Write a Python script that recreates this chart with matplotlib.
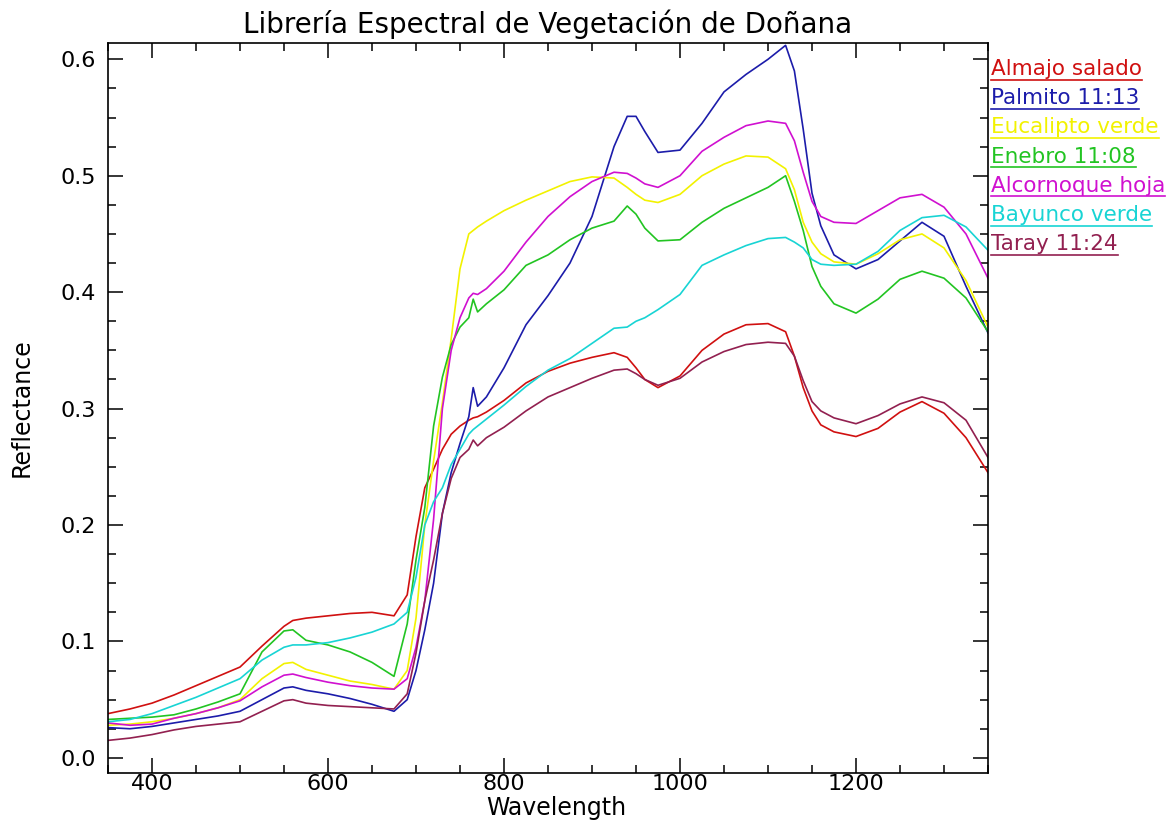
import numpy as np
import matplotlib.pyplot as plt
from matplotlib.lines import Line2D
from matplotlib.ticker import MultipleLocator

# wavelength grid (nm)
wavelength = [350, 375, 400, 425, 450, 475, 500, 525, 550, 560, 575,
              600, 625, 650, 675, 690, 700, 710, 720, 730, 740, 750,
              760, 765, 770, 780, 800, 825, 850, 875, 900, 925,
              940, 950, 960, 975, 1000, 1025, 1050, 1075, 1100,
              1120, 1130, 1140, 1150, 1160, 1175,
              1200, 1225, 1250, 1275, 1300, 1325, 1350]

almajo = [0.038, 0.042, 0.047, 0.054, 0.062, 0.070, 0.078, 0.096, 0.113, 0.118, 0.120,
          0.122, 0.124, 0.125, 0.122, 0.140, 0.190, 0.232, 0.248, 0.265, 0.278, 0.285,
          0.290, 0.292, 0.293, 0.297, 0.307, 0.322, 0.332, 0.339, 0.344, 0.348,
          0.344, 0.335, 0.325, 0.318, 0.328, 0.350, 0.364, 0.372, 0.373,
          0.366, 0.345, 0.318, 0.298, 0.286, 0.280,
          0.276, 0.283, 0.297, 0.306, 0.296, 0.275, 0.245]

palmito = [0.026, 0.025, 0.027, 0.030, 0.033, 0.036, 0.040, 0.050, 0.060, 0.061, 0.058,
           0.055, 0.051, 0.046, 0.040, 0.050, 0.075, 0.110, 0.150, 0.210, 0.245, 0.270,
           0.293, 0.318, 0.302, 0.310, 0.335, 0.372, 0.397, 0.425, 0.465, 0.525,
           0.551, 0.551, 0.538, 0.520, 0.522, 0.545, 0.572, 0.587, 0.600,
           0.612, 0.590, 0.540, 0.485, 0.457, 0.432,
           0.420, 0.428, 0.444, 0.460, 0.448, 0.405, 0.365]

eucalipto = [0.028, 0.029, 0.031, 0.034, 0.038, 0.043, 0.050, 0.068, 0.081, 0.082, 0.076,
             0.071, 0.066, 0.063, 0.059, 0.075, 0.120, 0.200, 0.255, 0.305, 0.360, 0.420,
             0.450, 0.453, 0.456, 0.461, 0.470, 0.479, 0.487, 0.495, 0.499, 0.498,
             0.490, 0.484, 0.479, 0.477, 0.484, 0.500, 0.510, 0.517, 0.516,
             0.506, 0.488, 0.460, 0.443, 0.433, 0.426,
             0.424, 0.433, 0.445, 0.450, 0.438, 0.410, 0.370]

enebro = [0.033, 0.034, 0.035, 0.037, 0.042, 0.048, 0.055, 0.091, 0.109, 0.110, 0.101,
          0.097, 0.091, 0.082, 0.070, 0.115, 0.170, 0.215, 0.285, 0.327, 0.355, 0.370,
          0.378, 0.394, 0.383, 0.390, 0.402, 0.423, 0.432, 0.445, 0.455, 0.461,
          0.474, 0.467, 0.455, 0.444, 0.445, 0.460, 0.472, 0.481, 0.490,
          0.500, 0.478, 0.453, 0.422, 0.405, 0.390,
          0.382, 0.394, 0.411, 0.418, 0.412, 0.395, 0.366]

alcornoque = [0.030, 0.028, 0.029, 0.034, 0.038, 0.043, 0.049, 0.061, 0.071, 0.072, 0.069,
              0.065, 0.062, 0.060, 0.059, 0.068, 0.095, 0.135, 0.205, 0.300, 0.350, 0.378,
              0.395, 0.399, 0.398, 0.403, 0.418, 0.443, 0.465, 0.482, 0.495, 0.503,
              0.502, 0.498, 0.493, 0.490, 0.500, 0.521, 0.533, 0.543, 0.547,
              0.545, 0.530, 0.503, 0.478, 0.465, 0.460,
              0.459, 0.470, 0.481, 0.484, 0.473, 0.450, 0.412]

bayunco = [0.031, 0.033, 0.038, 0.045, 0.052, 0.060, 0.068, 0.084, 0.095, 0.097, 0.097,
           0.099, 0.103, 0.108, 0.115, 0.125, 0.155, 0.200, 0.220, 0.232, 0.252, 0.265,
           0.278, 0.282, 0.285, 0.291, 0.303, 0.319, 0.333, 0.343, 0.356, 0.369,
           0.370, 0.375, 0.378, 0.385, 0.398, 0.423, 0.432, 0.440, 0.446,
           0.447, 0.443, 0.438, 0.428, 0.424, 0.423,
           0.424, 0.435, 0.453, 0.464, 0.466, 0.456, 0.436]

taray = [0.015, 0.017, 0.020, 0.024, 0.027, 0.029, 0.031, 0.040, 0.049, 0.050, 0.047,
         0.045, 0.044, 0.043, 0.042, 0.055, 0.090, 0.135, 0.170, 0.210, 0.240, 0.258,
         0.265, 0.273, 0.268, 0.275, 0.284, 0.298, 0.310, 0.318, 0.326, 0.333,
         0.334, 0.330, 0.325, 0.320, 0.326, 0.340, 0.349, 0.355, 0.357,
         0.356, 0.345, 0.324, 0.306, 0.298, 0.292,
         0.287, 0.294, 0.304, 0.310, 0.305, 0.290, 0.258]

names = ["Almajo salado", "Palmito 11:13", "Eucalipto verde", "Enebro 11:08",
         "Alcornoque hoja", "Bayunco verde", "Taray 11:24"]
colors = ["#d01010", "#1c1caa", "#f2f200", "#22c422", "#d010d0", "#18d4d4", "#922050"]
series = [almajo, palmito, eucalipto, enebro, alcornoque, bayunco, taray]

plt.rcParams['font.family'] = 'DejaVu Sans'
fig = plt.figure(figsize=(11.71, 8.27), dpi=100)
ax = fig.add_axes([108 / 1171, 1 - 773 / 827, 880 / 1171, 730 / 827])

for vals, c in zip(series, colors):
    ax.plot(wavelength, vals, color=c, lw=1.2)

ax.set_xlim(350, 1350)
ax.set_ylim(-0.013, 0.614)
ax.xaxis.set_major_locator(MultipleLocator(200))
ax.xaxis.set_minor_locator(MultipleLocator(50))
ax.yaxis.set_major_locator(MultipleLocator(0.1))
ax.yaxis.set_minor_locator(MultipleLocator(0.025))
ax.yaxis.set_major_formatter(plt.FuncFormatter(lambda v, p: f"{v:.1f}"))
ax.tick_params(which='both', direction='in', top=True, right=True, width=1.1,
               labelsize=16, colors='black')
ax.tick_params(which='major', length=11)
ax.tick_params(which='minor', length=5.5)
ax.tick_params(axis='x', pad=1)
ax.tick_params(axis='y', pad=9)
for sp in ax.spines.values():
    sp.set_linewidth(1.2)

fig.text(548 / 1171, 1 - 33 / 827, "Librería Espectral de Vegetación de Doñana",
         ha='center', va='baseline', fontsize=20)
fig.text(556 / 1171, 1 - 815 / 827, "Wavelength", ha='center', va='baseline', fontsize=17)
fig.text(22 / 1171, 1 - 408 / 827, "Reflectance", ha='center', va='center',
         rotation=90, fontsize=17)

# legend: coloured, underlined labels at the right edge
texts = []
for i, (name, c) in enumerate(zip(names, colors)):
    y = 75 + i * 29.2
    t = fig.text(991 / 1171, 1 - y / 827, name, color=c, fontsize=15.5,
                 ha='left', va='baseline')
    texts.append((t, y, c))

fig.canvas.draw()
r = fig.canvas.get_renderer()
for t, y, c in texts:
    bb = t.get_window_extent(r)
    yl = 1 - (y + 4.5) / 827
    fig.add_artist(Line2D([bb.x0 / 1171, bb.x1 / 1171], [yl, yl],
                          transform=fig.transFigure, color=c, lw=1.2))

fig.savefig("out.png", dpi=100)
